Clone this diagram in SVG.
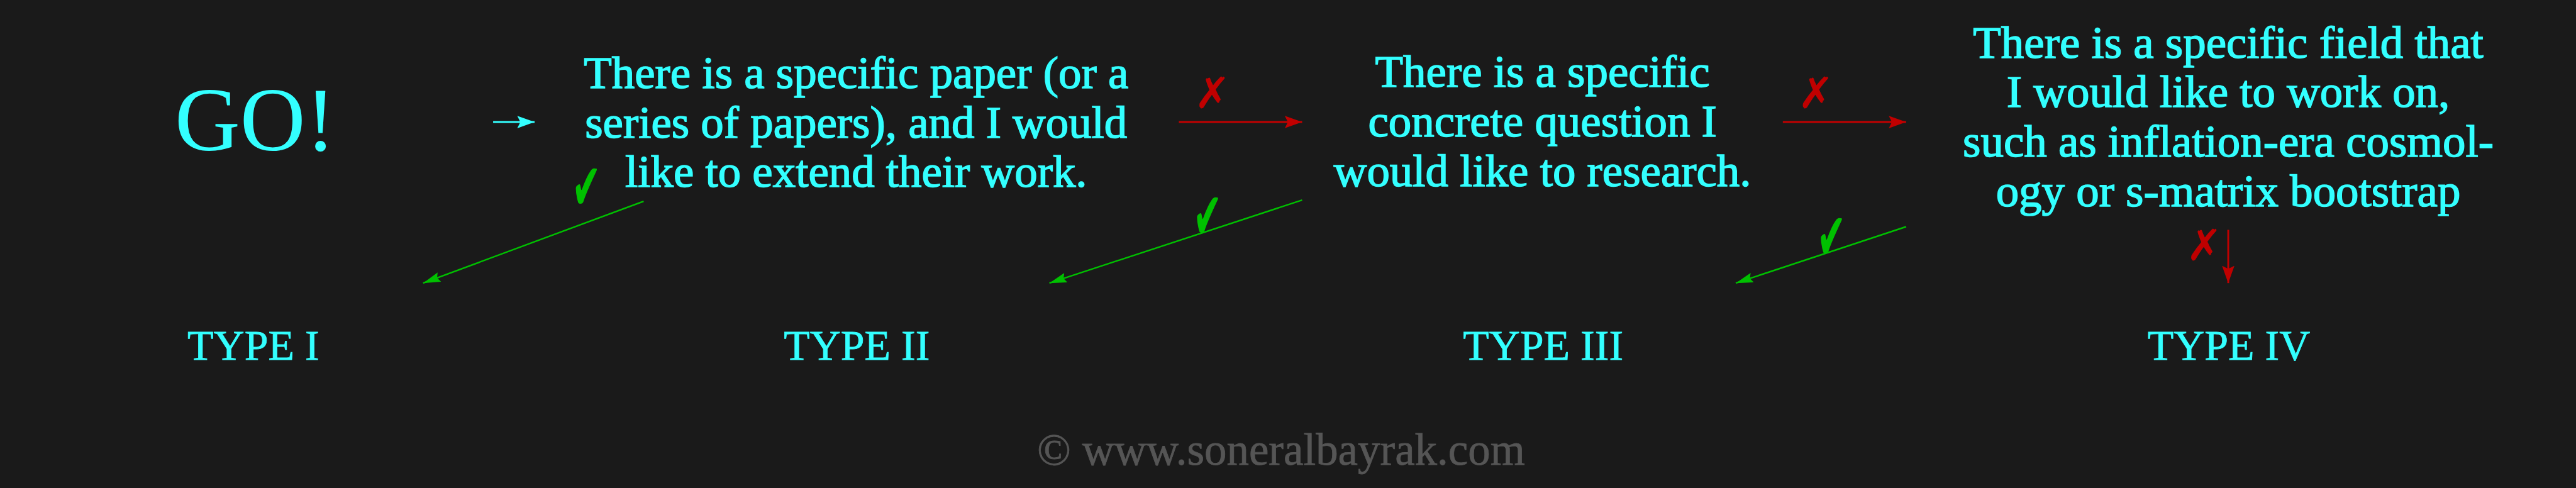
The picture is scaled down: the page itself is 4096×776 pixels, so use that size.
<svg xmlns="http://www.w3.org/2000/svg" width="4096" height="776" viewBox="0 0 4096 776">
<defs>
<style>
.t{font-family:"Liberation Serif","Times New Roman",serif;fill:#33ffff;text-anchor:middle}
.body{font-size:74px;stroke:#33ffff;stroke-width:1.6px}
.type{font-size:69px;stroke:#33ffff;stroke-width:0.8px}
.go{font-size:146px}
.copy{font-family:"Liberation Serif",serif;font-size:72px;fill:#555555;text-anchor:middle;stroke:#555555;stroke-width:0.8px}
.ok{font-family:"DejaVu Sans",sans-serif;font-size:70px;fill:#00c000}
.no{font-family:"DejaVu Sans",sans-serif;font-size:70px;fill:#c00000}
.cl{stroke:#33ffff;stroke-width:3;fill:none}
.rl{stroke:#c00000;stroke-width:3;fill:none}
.gl{stroke:#00c000;stroke-width:2.5;fill:none}
</style>
<marker id="ac" markerUnits="userSpaceOnUse" markerWidth="30" markerHeight="22" refX="28" refY="10" orient="auto"><path d="M0,0 L28,10 L0,20 L5,10 z" fill="#33ffff"/></marker>
<marker id="ar" markerUnits="userSpaceOnUse" markerWidth="30" markerHeight="22" refX="28" refY="10" orient="auto"><path d="M0,0 L28,10 L0,20 L5,10 z" fill="#c00000"/></marker>
<marker id="ag" markerUnits="userSpaceOnUse" markerWidth="30" markerHeight="22" refX="28" refY="8" orient="auto"><path d="M0,0 L28,8 L0,16 L4,8 z" fill="#00c000"/></marker>
</defs>
<rect x="0" y="0" width="4096" height="776" fill="#1a1a1a"/>
<g transform="scale(0.985)">
<g id="go"><text class="t go" x="412" y="243">GO!</text></g>
<g id="q1"><text class="t body" x="1382" y="142">There is a specific paper (or a</text><text class="t body" x="1382" y="222">series of papers), and I would</text><text class="t body" x="1382" y="302">like to extend their work.</text></g>
<g id="q2"><text class="t body" x="2490" y="140">There is a specific</text><text class="t body" x="2490" y="220">concrete question I</text><text class="t body" x="2490" y="300">would like to research.</text></g>
<g id="q3"><text class="t body" x="3597" y="93">There is a specific field that</text><text class="t body" x="3597" y="173">I would like to work on,</text><text class="t body" x="3597" y="253">such as inflation-era cosmol-</text><text class="t body" x="3597" y="333">ogy or s-matrix bootstrap</text></g>
<g id="type1"><text class="t type" x="409" y="581">TYPE I</text></g>
<g id="type2"><text class="t type" x="1383" y="581">TYPE II</text></g>
<g id="type3"><text class="t type" x="2491" y="581">TYPE III</text></g>
<g id="type4"><text class="t type" x="3598" y="581">TYPE IV</text></g>
<g id="connectors">
<line class="cl" x1="796" y1="197" x2="863" y2="197" marker-end="url(#ac)"/>
<line class="rl" x1="1903" y1="197" x2="2102" y2="197" marker-end="url(#ar)"/>
<line class="rl" x1="2878" y1="197" x2="3077" y2="197" marker-end="url(#ar)"/>
<line class="rl" x1="3597" y1="371" x2="3597" y2="457" stroke-width="2" marker-end="url(#ar)"/>
<line class="gl" x1="1039" y1="325" x2="683" y2="457" marker-end="url(#ag)"/>
<line class="gl" x1="2102" y1="323" x2="1694" y2="457" marker-end="url(#ag)"/>
<line class="gl" x1="3077" y1="366" x2="2802" y2="457" marker-end="url(#ag)"/>
<text class="ok" transform="translate(923,338) scale(0.8,1.5)">✔</text>
<text class="ok" transform="translate(1926,385) scale(0.8,1.5)">✔</text>
<text class="ok" transform="translate(2933,418) scale(0.8,1.5)">✔</text>
<text class="no" x="1928" y="175">✗</text>
<text class="no" x="2902" y="175">✗</text>
<text class="no" x="3529" y="420">✗</text>
</g>
<g id="footer"><text class="copy" x="2068" y="750">© www.soneralbayrak.com</text></g>
</g>
</svg>
